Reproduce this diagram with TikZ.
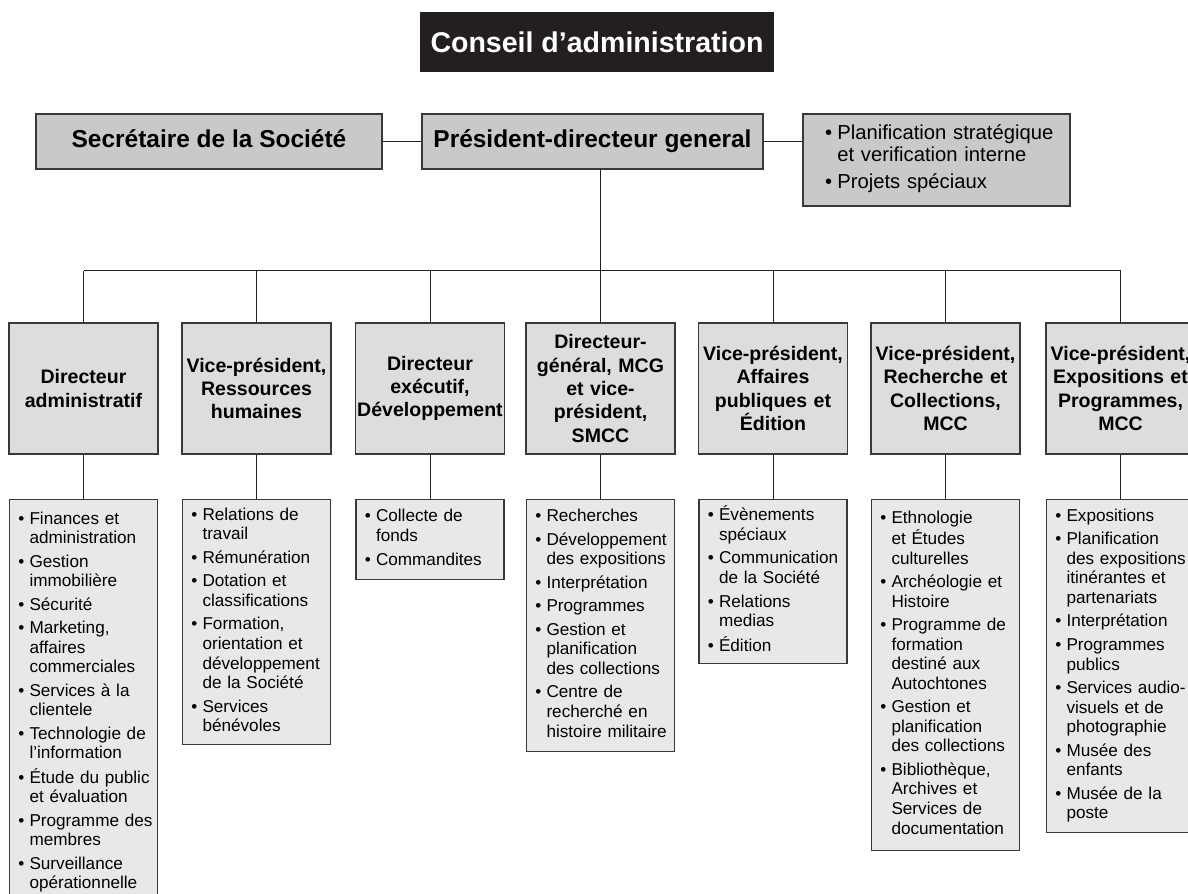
\documentclass[tikz,border=0pt]{standalone}
\usepackage{fontspec}
\setmainfont{Liberation Sans}
\definecolor{titlebg}{RGB}{35,31,32}
\definecolor{boxtop}{RGB}{200,201,203}
\definecolor{boxmid}{RGB}{220,221,223}
\definecolor{boxlow}{RGB}{231,232,233}
\definecolor{boxline}{RGB}{58,56,57}
\definecolor{linecol}{RGB}{35,31,32}
\newcommand{\bulletlist}[1]{\noindent\begin{tabular}{@{}l@{\hspace{0.13cm}}l@{}}#1\end{tabular}}

\begin{document}
\begin{tikzpicture}[
    box/.style={draw=boxline, line width=0.03cm, inner sep=0pt},
    titlebox/.style={fill=titlebg, text=white, inner sep=0pt, font=\fontsize{20.3}{24}\selectfont\bfseries},
    topbox/.style={box, fill=boxtop, font=\fontsize{17.4}{20.9}\selectfont\bfseries},
    toplabel/.style={topbox, text height=1.0em, text depth=0.21em},
    headbox/.style={box, fill=boxmid, text width=3.725cm, minimum height=3.275cm, align=center, font=\fontsize{13.9}{16.6}\selectfont\bfseries},
    listbox/.style={box, fill=boxlow, anchor=north, inner xsep=0.22cm, text width=3.26cm, align=left, font=\fontsize{12.2}{13.9}\selectfont},
    link/.style={draw=linecol, line width=0.025cm}]
                \useasboundingbox (0,0) rectangle (29.700000,22.350000);
                \clip (0,0) rectangle (29.700000,22.350000);

                % Drawing board title
                \draw (14.925000,21.300000) node [titlebox, minimum width=8.85cm, minimum height=1.5cm] (conseil) {Conseil d’administration};%

                % Drawing top row
                \draw (5.225000,18.812500) node [toplabel, minimum width=8.65cm, minimum height=1.375cm] (secr) {Secrétaire de la Société};%
                \draw (14.812500,18.812500) node [toplabel, minimum width=8.525cm, minimum height=1.375cm] (pdg) {Président-directeur general};%
                \draw (23.412500,18.350000) node [topbox, font=\fontsize{14.4}{15.4}\selectfont, inner xsep=0.55cm, text width=5.575cm, minimum height=2.3cm, align=left] (plan)
                    {\bulletlist{• & Planification stratégique\\ & et verification interne\\[4.3pt] • & Projets spéciaux}};%
                \coordinate (bus) at (0,15.575000);

                % Drawing second row
                \draw (2.087500,12.637500) node [headbox] (dadm) {Directeur\\administratif};%
                \draw (6.412500,12.637500) node [headbox] (vprh) {Vice-président,\\Ressources\\humaines};%
                \draw (10.750000,12.637500) node [headbox] (dexe) {Directeur\\exécutif,\\Développement};%
                \draw (15.012500,12.637500) node [headbox] (dgen) {Directeur-\\général, MCG\\et vice-\\président,\\SMCC};%
                \draw (19.325000,12.637500) node [headbox] (vpaff) {Vice-président,\\Affaires\\publiques et\\Édition};%
                \draw (23.637500,12.637500) node [headbox] (vprech) {Vice-président,\\Recherche et\\Collections,\\MCC};%
                \draw (28.012500,12.637500) node [headbox] (vpexp) {Vice-président,\\Expositions et\\Programmes,\\MCC};%

                % Drawing lists under the second row
                \draw (2.087500,9.875000) node [listbox, minimum height=10.15cm] (ladm)
                    {\bulletlist{• & Finances et\\ & administration\\[2.8pt] • & Gestion\\ & immobilière\\[2.8pt] • & Sécurité\\[2.8pt]
                     • & Marketing,\\ & affaires\\ & commerciales\\[2.8pt] • & Services à la\\ & clientele\\[2.8pt] • & Technologie de\\ & l’information\\[2.8pt]
                     • & Étude du public\\ & et évaluation\\[2.8pt] • & Programme des\\ & membres\\[2.8pt] • & Surveillance\\ & opérationnelle}};%
                \draw (6.412500,9.875000) node [listbox, minimum height=6.125cm] (lrh)
                    {\bulletlist{• & Relations de\\ & travail\\[2.8pt] • & Rémunération\\[2.8pt] • & Dotation et\\ & classifications\\[2.8pt]
                     • & Formation,\\ & orientation et\\ & développement\\ & de la Société\\[2.8pt] • & Services\\ & bénévoles}};%
                \draw (10.750000,9.875000) node [listbox, minimum height=2.0cm] (lexe)
                    {\bulletlist{• & Collecte de\\ & fonds\\[2.8pt] • & Commandites}};%
                \draw (15.012500,9.875000) node [listbox, minimum height=6.3cm] (lgen)
                    {\bulletlist{• & Recherches\\[2.8pt] • & Développement\\ & des expositions\\[2.8pt] • & Interprétation\\[2.8pt] • & Programmes\\[2.8pt]
                     • & Gestion et\\ & planification\\ & des collections\\[2.8pt] • & Centre de\\ & recherché en\\ & histoire militaire}};%
                \draw (19.325000,9.875000) node [listbox, minimum height=4.1cm] (laff)
                    {\bulletlist{• & Évènements\\ & spéciaux\\[2.8pt] • & Communication\\ & de la Société\\[2.8pt] • & Relations\\ & medias\\[2.8pt] • & Édition}};%
                \draw (23.637500,9.875000) node [listbox, minimum height=8.775cm] (lrech)
                    {\bulletlist{• & Ethnologie\\ & et Études\\ & culturelles\\[2.8pt] • & Archéologie et\\ & Histoire\\[2.8pt]
                     • & Programme de\\ & formation\\ & destiné aux\\ & Autochtones\\[2.8pt] • & Gestion et\\ & planification\\ & des collections\\[2.8pt]
                     • & Bibliothèque,\\ & Archives et\\ & Services de\\ & documentation}};%
                \draw (28.012500,9.875000) node [listbox, minimum height=8.325cm] (lexp)
                    {\bulletlist{• & Expositions\\[2.8pt] • & Planification\\ & des expositions\\ & itinérantes et\\ & partenariats\\[2.8pt] • & Interprétation\\[2.8pt]
                     • & Programmes\\ & publics\\[2.8pt] • & Services audio-\\ & visuels et de\\ & photographie\\[2.8pt] • & Musée des\\ & enfants\\[2.8pt]
                     • & Musée de la\\ & poste}};%

                % Drawing links of the top row
                \draw [link] (secr.east) -- (pdg.west);%
                \draw [link] (pdg.east) -- (pdg.east -| plan.west);%
                \draw [link] (pdg.south -| dgen.north) -- (dgen.north);%

                % Drawing the bus and its drops
                \draw [link] (dadm.north |- bus) -- (vpexp.north |- bus);%
                \foreach \head in {dadm,vprh,dexe,vpaff,vprech,vpexp}
                    \draw [link] (\head.north) -- (\head.north |- bus);%

                % Drawing links down to the lists
                \foreach \head/\list in {dadm/ladm,vprh/lrh,dexe/lexe,dgen/lgen,vpaff/laff,vprech/lrech,vpexp/lexp}
                    \draw [link] (\head.south) -- (\list.north);%
\end{tikzpicture}
\end{document}
